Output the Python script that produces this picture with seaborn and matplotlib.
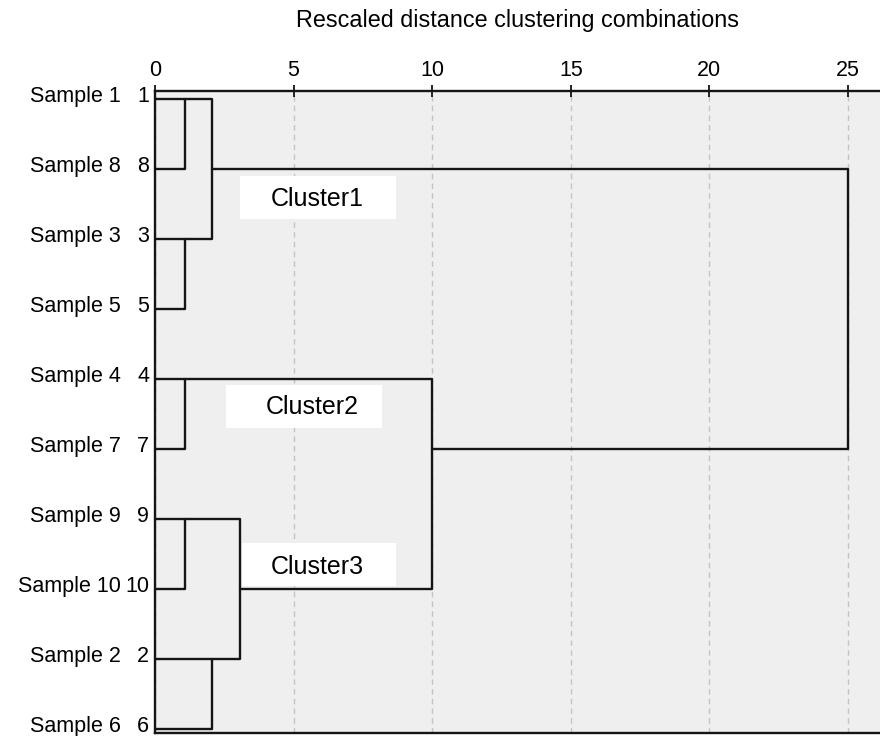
import numpy as np
import pandas as pd
import seaborn as sns
import matplotlib.pyplot as plt
from matplotlib.patches import Rectangle

# Leaf order as drawn (top to bottom)
leaf_ids = ["1", "8", "3", "5", "4", "7", "9", "10", "2", "6"]
sample_names = ["Sample " + s for s in leaf_ids]

# Merge steps: nodes 0-9 are leaves, merge k creates node 10+k
merge_left = [0, 2, 10, 4, 6, 8, 14, 13, 12]
merge_right = [1, 3, 11, 5, 7, 9, 15, 16, 17]
merge_dist = [1.08, 1.08, 2.06, 1.08, 1.1, 2.06, 3.07, 10.0, 25.0]
merge_row = [0, 2, 1, 4, 6, 8, 7, 5, 3]

cluster_names = ["Cluster1", "Cluster2", "Cluster3"]
xticks = [0, 5, 10, 15, 20, 25]
title = "Rescaled distance clustering combinations"

# Build segment table for the dendrogram
n_leaf = len(leaf_ids)
node_row = list(range(n_leaf))
node_dist = [0.0] * n_leaf
rows = []
for k, (l, r, d) in enumerate(zip(merge_left, merge_right, merge_dist)):
    pts = [(node_dist[l], node_row[l]), (d, node_row[l]),
           (d, node_row[r]), (node_dist[r], node_row[r])]
    for i, (x, y) in enumerate(pts):
        rows.append({"seg": k, "order": i, "dist": x, "row": y})
    node_row.append(merge_row[k])
    node_dist.append(d)
segs = pd.DataFrame(rows)

sns.set_theme(style="white")
plt.rcParams["font.family"] = ["Liberation Sans", "DejaVu Sans"]

fig = plt.figure(figsize=(8.8, 7.36), dpi=100)
ax = fig.add_axes([155 / 880, 3 / 736, 725 / 880, 642 / 736])
ax.set_facecolor("#efefef")

sns.lineplot(data=segs, x="dist", y="row", units="seg", estimator=None,
             sort=False, color="#151515", linewidth=1.7, ax=ax, zorder=3)

ax.set_xlim(0, 725 / 27.72)
ax.set_ylim(9.057, -0.114)

ax.xaxis.tick_top()
ax.set_xticks(xticks)
ax.set_xticklabels([str(t) for t in xticks])
ax.tick_params(axis="x", direction="inout", length=8, width=1.2,
               colors="#000000", labelsize=15.5, pad=3)
ax.set_yticks(range(n_leaf))
ax.set_yticklabels([])
ax.tick_params(axis="y", length=0)
ax.set_xlabel("")
ax.set_ylabel("")

ax.xaxis.grid(True, color="#c4c4c4", linestyle=(0, (4, 3)), linewidth=1)
ax.yaxis.grid(False)
ax.set_axisbelow(True)

for side in ["top", "left", "bottom"]:
    ax.spines[side].set_color("#151515")
    ax.spines[side].set_linewidth(1.7)
ax.spines["right"].set_visible(False)

# Sample names and leaf numbers left of the axis
ytrans = ax.get_yaxis_transform()
for i, (name, lid) in enumerate(zip(sample_names, leaf_ids)):
    ax.text(-0.047, i - 0.04, name, transform=ytrans, ha="right", va="center",
            fontsize=15.5, color="#000000", clip_on=False)
    ax.text(-0.008, i - 0.04, lid, transform=ytrans, ha="right", va="center",
            fontsize=15.5, color="#000000", clip_on=False)

# Cluster boxes
box_spec = [(3.07, 1.10, 5.62, 0.61, 5.84, 1.43),
            (2.56, 4.09, 5.63, 0.61, 5.66, 4.40),
            (3.14, 6.34, 5.55, 0.62, 5.84, 6.69)]
for name, (bx, by, bw, bh, tx, ty) in zip(cluster_names, box_spec):
    ax.add_patch(Rectangle((bx, by), bw, bh, facecolor="white",
                           edgecolor="none", zorder=2))
    ax.text(tx, ty, name, ha="center", va="center", fontsize=18,
            color="#000000", zorder=4)

fig.text(517 / 880, 1 - 20 / 736, title, ha="center", va="center",
         fontsize=16.8, color="#000000")

fig.savefig("out.png", dpi=100)
